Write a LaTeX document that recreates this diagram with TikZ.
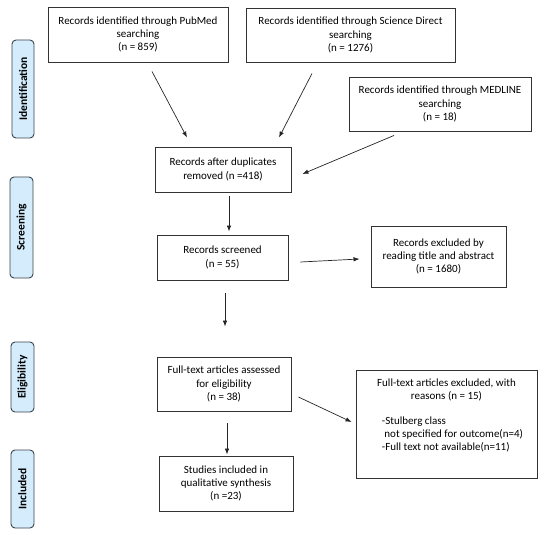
\documentclass[tikz,border=0pt]{standalone}
\usepackage{fontspec}
\setmainfont{Carlito}
\usepackage{xcolor}
\usepackage{tikz}
\usetikzlibrary{arrows.meta,calc}

\definecolor{stagefill}{RGB}{212,236,252}
\definecolor{stageline}{RGB}{60,68,78}

\tikzset{
  recbox/.style={draw=black!80,line width=0.9pt,align=center,font=\fontsize{11}{13.3}\selectfont,inner sep=2pt},
  stagebox/.style={draw=stageline,fill=stagefill,line width=0.9pt,rounded corners=4pt,rotate=90,font=\fontsize{11.5}{12}\selectfont\bfseries,inner sep=0pt},
  flow/.style={draw=black!85,line width=0.7pt,-{Latex[length=6pt,width=4.5pt]}}
}

\begin{document}
\begin{tikzpicture}[x=1pt,y=1pt,yscale=-1,xscale=1]
	\useasboundingbox (0,0) rectangle (550,535);
	
	% Stage labels
	\node [stagebox,minimum width=98,minimum height=22] (ident) at (23,89) {Identification};
	\node [stagebox,minimum width=101,minimum height=23] (screen) at (21.5,227.5) {Screening};
	\node [stagebox,minimum width=70,minimum height=23] (elig) at (22.5,377) {Eligibility};
	\node [stagebox,minimum width=78,minimum height=23] (incl) at (22.5,489) {Included};
	
	% Record boxes
	\node [recbox,minimum width=180,minimum height=55] (pubmed) at (138,34.5) {Records identified through PubMed\\searching\\(n = 859)};
	\node [recbox,minimum width=209,minimum height=54] (scidir) at (350.5,35) {Records identified through Science Direct\\searching\\(n = 1276)};
	\node [recbox,minimum width=182,minimum height=54] (medline) at (440,104) {Records identified through MEDLINE\\searching\\(n = 18)};
	\node [recbox,minimum width=136,minimum height=45] (dup) at (223,169.5) {Records after duplicates\\removed (n =418)};
	\node [recbox,minimum width=131,minimum height=45] (screened) at (222.5,257.5) {Records screened\\(n = 55)};
	\node [recbox,minimum width=135,minimum height=61] (excl) at (438.5,256.5) {Records excluded by\\reading title and abstract\\(n = 1680)};
	\node [recbox,minimum width=134,minimum height=54] (full) at (224,384) {Full-text articles assessed\\for eligibility\\(n = 38)};
	\node [recbox,minimum width=181,minimum height=108] (fullexcl) at (446.5,424) {};
	\node [recbox,draw=none,anchor=north] (fullexcltxt) at (446.5,376) {Full-text articles excluded, with\\reasons (n = 15)\\[13pt]\hspace*{12pt}\begin{tabular}{@{}l@{}}-Stulberg class\\\ not specified for outcome(n=4)\\-Full text not available(n=11)\end{tabular}};
	\node [recbox,minimum width=134,minimum height=55] (studies) at (226,483.5) {Studies included in\\qualitative synthesis\\(n =23)};
	
	% Arrows
	\draw [flow] ($(pubmed.south)+(14,9)$) -- ($(dup.north)+(-36,-9)$);
	\draw [flow] ($(scidir.south)+(-38.5,11)$) -- ($(dup.north)+(56,-9)$);
	\draw [flow] ($(medline.south)+(-46,4)$) -- ($(dup.east)+(11,4.5)$);
	\draw [flow] ($(dup.south)+(6,4)$) -- ($(screened.north)+(6.5,-3)$);
	\draw [flow] ($(screened.east)+(12,4.5)$) -- ($(excl.west)+(-11,2.5)$);
	\draw [flow] ($(screened.south)+(2.5,13)$) -- ($(full.north)+(1,-30)$);
	\draw [flow] ($(full.east)+(7,13)$) -- ($(fullexcl.west)+(-4,-2)$);
	\draw [flow] ($(full.south)+(3,12)$) -- ($(studies.north)+(1,-1)$);
	
\end{tikzpicture}
\end{document}
